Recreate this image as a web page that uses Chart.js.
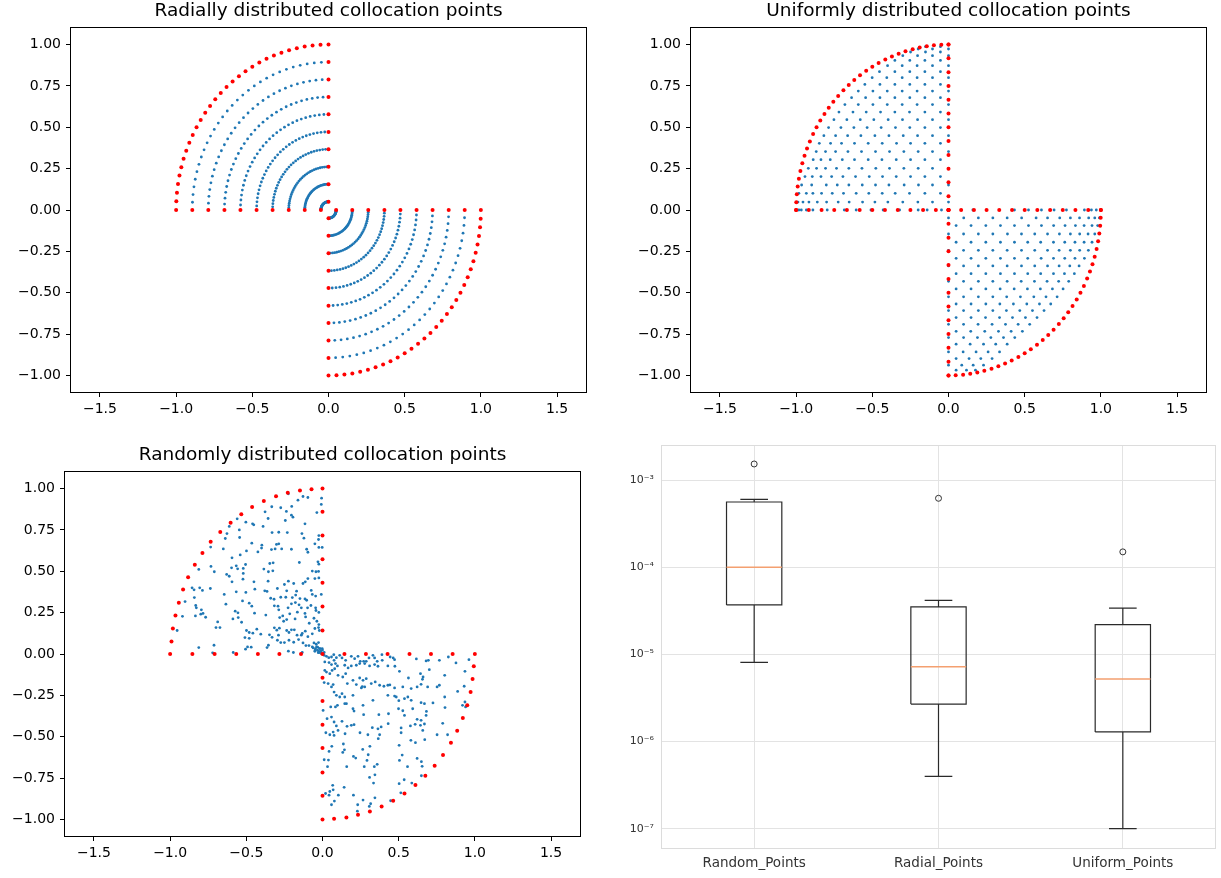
<!DOCTYPE html>
<html>
<head>
<meta charset="utf-8">
<script src="https://cdn.jsdelivr.net/npm/chart.js@4.4.1/dist/chart.umd.min.js"></script>
<style>
  html, body { margin:0; padding:0; background:#fff; }
  body { width:1221px; height:878px; position:relative; overflow:hidden; }
  .p { position:absolute; }
</style>
</head>
<body>
<div class="p" style="left:0px;top:0px"><canvas id="c1" width="600" height="420"></canvas></div>
<div class="p" style="left:620px;top:0px"><canvas id="c2" width="600" height="420"></canvas></div>
<div class="p" style="left:-6px;top:444px"><canvas id="c3" width="600" height="420"></canvas></div>
<div class="p" style="left:605px;top:430px"><canvas id="c4" width="616" height="448"></canvas></div>
<script>
// ---------------- DATA ----------------
const scatterXTicks = [-1.5, -1.0, -0.5, 0.0, 0.5, 1.0, 1.5];
const scatterYTicks = [-1.0, -0.75, -0.5, -0.25, 0.0, 0.25, 0.5, 0.75, 1.0];

// Radial plot: ring radii and point angles (degrees within each quarter)
const radialRingRadii = [0.05, 0.156, 0.261, 0.367, 0.472, 0.578, 0.683, 0.789, 0.894, 1.0];
const radialAnglesDeg = [0,3,6,9,12,15,18,21,24,27,30,33,36,39,42,45,48,51,54,57,60,63,66,69,72,75,78,81,84,87,90];

// Uniform plot: boundary points
const uniformEdgeValues = [0, 0.083, 0.167, 0.25, 0.333, 0.417, 0.5, 0.583, 0.667, 0.75, 0.833, 0.917, 1.0];
const uniformArcDeg = [0,2.7,5.5,8.2,10.9,13.6,16.4,19.1,21.8,24.5,27.3,30,32.7,35.5,38.2,40.9,43.6,46.4,49.1,51.8,54.5,57.3,60,62.7,65.5,68.2,70.9,73.6,76.4,79.1,81.8,84.5,87.3,90];
// Uniform plot interior rows: [y, [x values]]
const uniformUpperRows = [
  [0.0,   [-0.982,-0.966,-0.933,-0.89,-0.796,-0.684,-0.606,-0.509,-0.429,-0.321,-0.199,-0.14,-0.046]],
  [0.048, [-0.988,-0.955,-0.916,-0.861,-0.80,-0.724,-0.652,-0.564,-0.483,-0.398,-0.30,-0.201,-0.105,0]],
  [0.101, [-0.982,-0.933,-0.89,-0.833,-0.763,-0.689,-0.606,-0.523,-0.435,-0.35,-0.256,-0.155,-0.053]],
  [0.151, [-0.964,-0.898,-0.802,-0.73,-0.654,-0.566,-0.479,-0.391,-0.291,-0.197,-0.105,0]],
  [0.202, [-0.942,-0.894,-0.837,-0.767,-0.693,-0.61,-0.52,-0.433,-0.343,-0.249,-0.155,-0.053]],
  [0.252, [-0.92,-0.866,-0.807,-0.735,-0.654,-0.568,-0.477,-0.387,-0.293,-0.199,-0.105,0]],
  [0.304, [-0.888,-0.837,-0.776,-0.697,-0.617,-0.527,-0.437,-0.343,-0.249,-0.155,-0.053]],
  [0.353, [-0.868,-0.807,-0.741,-0.66,-0.571,-0.479,-0.387,-0.293,-0.199,-0.105,0]],
  [0.403, [-0.848,-0.774,-0.702,-0.617,-0.527,-0.435,-0.341,-0.249,-0.155,-0.053]],
  [0.449, [-0.818,-0.741,-0.662,-0.575,-0.483,-0.391,-0.297,-0.203,-0.105,0]],
  [0.498, [-0.787,-0.706,-0.621,-0.534,-0.442,-0.348,-0.254,-0.155,-0.053]],
  [0.546, [-0.752,-0.667,-0.579,-0.49,-0.396,-0.302,-0.203,-0.105,0]],
  [0.592, [-0.719,-0.627,-0.54,-0.446,-0.352,-0.256,-0.155,-0.053]],
  [0.637, [-0.68,-0.592,-0.496,-0.402,-0.304,-0.206,-0.105,0]],
  [0.679, [-0.636,-0.544,-0.45,-0.352,-0.254,-0.155,-0.053]],
  [0.719, [-0.592,-0.496,-0.402,-0.304,-0.206,-0.105,0]],
  [0.759, [-0.549,-0.45,-0.352,-0.254,-0.155,-0.053]],
  [0.80,  [-0.501,-0.405,-0.304,-0.206,-0.105,0]],
  [0.836, [-0.453,-0.352,-0.254,-0.155,-0.053]],
  [0.872, [-0.40,-0.304,-0.206,-0.105,0]],
  [0.904, [-0.352,-0.254,-0.155,-0.053]],
  [0.933, [-0.30,-0.203,-0.105,0]],
  [0.955, [-0.249,-0.151,-0.053]],
  [0.973, [-0.199,-0.105,0]],
  [0.987, [-0.151,-0.053]]
];
const uniformLowerRows = [
  [0.0,    [0.16,0.433,0.525,0.61,0.693,0.774,0.892,0.938,0.97]],
  [-0.048, [0,0.1,0.196,0.291,0.385,0.48,0.575,0.65,0.73,0.80,0.86,0.92,0.96,0.99]],
  [-0.094, [0.05,0.148,0.245,0.341,0.433,0.525,0.61,0.69,0.765,0.833,0.89,0.942,0.979]],
  [-0.145, [0,0.099,0.196,0.291,0.387,0.479,0.566,0.65,0.728,0.8,0.861,0.916,0.96]],
  [-0.195, [0.05,0.148,0.245,0.341,0.433,0.52,0.605,0.689,0.763,0.83,0.89,0.942]],
  [-0.244, [0,0.099,0.196,0.291,0.385,0.479,0.566,0.65,0.726,0.8,0.861,0.918]],
  [-0.292, [0.05,0.148,0.245,0.341,0.433,0.52,0.608,0.689,0.763,0.83,0.892]],
  [-0.338, [0,0.099,0.196,0.291,0.385,0.479,0.566,0.65,0.726,0.796,0.857]],
  [-0.385, [0.05,0.148,0.245,0.341,0.433,0.52,0.605,0.689,0.761,0.826]],
  [-0.431, [0,0.099,0.196,0.291,0.385,0.477,0.564,0.647,0.723,0.789]],
  [-0.477, [0.05,0.148,0.245,0.339,0.431,0.518,0.603,0.682,0.752]],
  [-0.525, [0,0.099,0.196,0.291,0.382,0.472,0.56,0.64,0.713]],
  [-0.568, [0.05,0.148,0.245,0.337,0.426,0.514,0.597,0.671]],
  [-0.608, [0,0.099,0.196,0.291,0.38,0.468,0.551,0.627]],
  [-0.65,  [0.05,0.148,0.243,0.335,0.42,0.505,0.581]],
  [-0.691, [0,0.099,0.194,0.286,0.374,0.457,0.533]],
  [-0.733, [0.05,0.146,0.238,0.328,0.411,0.485]],
  [-0.771, [0,0.099,0.19,0.278,0.361,0.435]],
  [-0.811, [0.05,0.142,0.23,0.31,0.385]],
  [-0.858, [0,0.096,0.181,0.26,0.335]],
  [-0.898, [0.05,0.135,0.212,0.286]],
  [-0.938, [0,0.087,0.162,0.23]],
  [-0.968, [0.05,0.118,0.177]]
];

// Random plot: boundary (red) and interior (blue) points [x, y]
const randomBoundaryPoints = [
  [0,1],[-0.072,0.996],[-0.148,0.988],[-0.228,0.974],[-0.305,0.954],[-0.385,0.924],[-0.462,0.888],[-0.533,0.845],[-0.603,0.793],[-0.671,0.738],
  [-0.734,0.678],[-0.788,0.611],[-0.838,0.539],[-0.882,0.464],[-0.915,0.39],[-0.943,0.309],[-0.965,0.232],[-0.982,0.154],[-0.991,0.075],[-1,0],
  [0,0.859],[0,0.716],[0,0.573],[0,0.43],[0,0.287],[0,0.142],[0,0],
  [-0.854,0],[-0.708,0],[-0.566,0],[-0.424,0],[-0.283,0],[-0.141,0],
  [0.144,0],[0.285,0],[0.427,0],[0.571,0],[0.712,0],[0.854,0],[1,0],
  [0.993,-0.074],[0.985,-0.151],[0.972,-0.23],[0.95,-0.31],[0.921,-0.387],[0.884,-0.464],[0.843,-0.536],[0.791,-0.611],[0.736,-0.675],[0.675,-0.736],
  [0.61,-0.792],[0.538,-0.843],[0.464,-0.887],[0.388,-0.921],[0.311,-0.952],[0.233,-0.972],[0.157,-0.988],[0.076,-0.996],[0,-1],
  [0,-0.143],[0,-0.284],[0,-0.427],[0,-0.568],[0,-0.716],[0,-0.857]
];
const randomInteriorPoints = [
  [-0.128,0.952],[-0.096,0.946],[-0.224,0.968],[-0.161,0.93],[-0.006,0.942],[-0.008,0.904],[-0.037,0.855],[-0.202,0.892],[-0.274,0.884],[-0.333,0.89],
  [-0.377,0.859],[-0.237,0.862],[-0.204,0.839],[-0.194,0.827],[-0.357,0.819],[-0.244,0.807],[-0.115,0.787],[-0.503,0.797],[-0.459,0.787],[-0.451,0.781],
  [-0.56,0.817],[-0.612,0.771],[-0.546,0.75],[-0.39,0.771],[-0.331,0.734],[-0.287,0.736],[-0.231,0.734],[-0.135,0.728],[-0.122,0.70],[-0.024,0.716],
  [-0.026,0.692],[-0.627,0.728],[-0.638,0.698],[-0.544,0.704],[-0.464,0.67],[-0.398,0.658],[-0.4,0.64],[-0.302,0.662],[-0.287,0.666],[-0.311,0.635],
  [-0.335,0.631],[-0.268,0.635],[-0.204,0.633],[-0.104,0.633],[-0.096,0.615],[-0.05,0.666],[-0.024,0.644],[-0.002,0.644],[-0.734,0.646],[-0.651,0.635],
  [-0.499,0.623],[-0.424,0.617],[-0.54,0.599],[-0.594,0.581],[-0.505,0.541],[-0.566,0.533],[-0.597,0.521],[-0.557,0.515],[-0.52,0.517],[-0.732,0.529],
  [-0.346,0.547],[-0.324,0.551],[-0.152,0.553],[-0.03,0.557],[-0.024,0.543],[-0.385,0.513],[-0.812,0.511],
  [-0.71,0.497],[-0.52,0.487],[-0.629,0.481],[-0.612,0.47],[-0.594,0.436],[-0.522,0.452],[-0.45,0.436],
  [-0.355,0.497],[-0.326,0.503],[-0.357,0.44],[-0.296,0.396],[-0.25,0.42],[-0.224,0.44],[-0.189,0.426],[-0.235,0.382],[-0.17,0.38],[-0.128,0.426],
  [-0.113,0.436],[-0.096,0.456],[-0.067,0.501],[-0.043,0.497],[-0.026,0.499],[-0.05,0.456],[-0.024,0.46],
  [-0.856,0.4],[-0.843,0.388],[-0.806,0.4],[-0.788,0.384],[-0.736,0.396],[-0.645,0.36],[-0.566,0.376],[-0.503,0.372],[-0.444,0.392],[-0.379,0.382],
  [-0.364,0.378],[-0.34,0.337],[-0.318,0.331],[-0.274,0.343],[-0.241,0.343],[-0.198,0.341],[-0.176,0.356],[-0.148,0.335],[-0.115,0.333],[-0.104,0.325],
  [-0.074,0.384],[-0.067,0.36],[-0.045,0.35],[-0.008,0.36],
  [-0.902,0.317],[-0.841,0.341],[-0.832,0.293],[-0.828,0.279],[-0.795,0.267],[-0.784,0.245],[-0.799,0.241],[-0.767,0.222],[-0.834,0.23],[-0.919,0.228],
  [-0.634,0.301],[-0.573,0.259],[-0.555,0.249],[-0.553,0.22],[-0.525,0.321],[-0.481,0.307],[-0.464,0.289],[-0.446,0.247],[-0.372,0.235],[-0.316,0.291],
  [-0.292,0.289],[-0.287,0.267],[-0.226,0.279],[-0.204,0.303],[-0.178,0.311],[-0.154,0.297],[-0.139,0.279],[-0.098,0.279],[-0.076,0.293],[-0.045,0.279],
  [-0.043,0.263],[-0.024,0.251],
  [-0.281,0.22],[-0.261,0.23],[-0.255,0.198],[-0.235,0.208],[-0.215,0.243],[-0.18,0.212],[-0.165,0.253],[-0.115,0.245],[-0.111,0.224],[-0.056,0.216],
  [-0.037,0.198],[-0.024,0.178],[-0.087,0.186],[-0.531,0.192],[-0.588,0.212],[-0.688,0.194],[-0.699,0.16],[-0.673,0.16],[-0.954,0.142],[-0.499,0.142],
  [-0.431,0.15],[-0.405,0.12],[-0.481,0.13],[-0.457,0.126],[-0.509,0.099],[-0.481,0.095],[-0.348,0.116],[-0.331,0.101],[-0.316,0.158],[-0.3,0.144],
  [-0.283,0.156],[-0.289,0.114],[-0.235,0.142],[-0.22,0.13],[-0.204,0.146],[-0.185,0.146],[-0.167,0.114],[-0.139,0.114],[-0.133,0.124],[-0.113,0.138],
  [-0.096,0.105],[-0.067,0.122],[-0.05,0.154],[-0.026,0.16],[-0.021,0.142],
  [-0.296,0.083],[-0.274,0.069],[-0.25,0.069],[-0.22,0.083],[-0.189,0.071],[-0.157,0.087],[-0.128,0.067],[-0.109,0.051],[-0.089,0.051],[-0.067,0.043],
  [-0.056,0.067],[-0.041,0.059],[-0.026,0.069],[-0.019,0.033],[-0.002,0.033],[-0.011,0.017],[0.011,0.009],
  [-0.812,0.039],[-0.712,0.053],[-0.721,0.007],[-0.586,0.009],[-0.505,0.029],[-0.492,0.043],[-0.468,0.041],[-0.364,0.039],[-0.355,0.053],[-0.224,0.017],
  [-0.191,0.009],[-0.133,0.009],[-0.048,0.023],[-0.032,0.041],[-0.021,0.009],
  [-0.061,0.037],[-0.046,0.032],[-0.033,0.024],[-0.024,0.016],[-0.011,0.012],[-0.017,0.032],[-0.039,0.043],[-0.007,0.002],[-0.028,0.008],[-0.05,0.016],[0.0,0.024],
  [0.011,-0.008],[0.026,-0.014],[0.041,-0.022],[0.059,-0.018],[0.074,-0.004],[0.091,-0.022],[0.113,-0.008],[0.128,-0.024],[0.152,-0.038],[0.189,-0.014],
  [0.211,-0.028],[0.233,-0.014],[0.248,-0.044],[0.27,-0.044],[0.287,-0.044],[0.305,-0.024],[0.331,-0.008],[0.342,-0.024],[0.359,-0.044],[0.39,-0.004],
  [0.392,-0.038],[0.444,-0.018],[0.464,-0.024],[0.473,-0.034],[0.616,-0.03],[0.68,-0.042],[0.695,-0.038],[0.767,-0.038],[0.826,-0.018],[0.876,-0.054],
  [0.961,-0.034],[0.015,-0.048],[0.043,-0.052],[0.059,-0.064],[0.076,-0.038],[0.085,-0.058],[0.098,-0.072],[0.146,-0.068],[0.168,-0.084],[0.189,-0.072],
  [0.222,-0.068],[0.244,-0.058],[0.277,-0.058],[0.309,-0.072],[0.342,-0.064],[0.364,-0.074],[0.429,-0.072],[0.475,-0.074],[0.505,-0.105],[0.564,-0.145],
  [0.643,-0.119],[0.656,-0.153],[0.66,-0.139],[0.701,-0.095],[0.802,-0.129],[0.935,-0.105],
  [0.015,-0.099],[0.026,-0.109],[0.048,-0.119],[0.063,-0.099],[0.08,-0.089],[0.102,-0.129],[0.133,-0.139],[0.152,-0.119],[0.163,-0.179],[0.2,-0.159],
  [0.222,-0.185],[0.244,-0.145],[0.266,-0.159],[0.277,-0.199],[0.287,-0.149],[0.32,-0.179],[0.346,-0.169],[0.375,-0.189],[0.403,-0.195],[0.429,-0.189],
  [0.442,-0.187],[0.473,-0.205],[0.527,-0.199],[0.582,-0.209],[0.621,-0.199],[0.647,-0.183],[0.69,-0.199],[0.752,-0.199],[0.767,-0.189],[0.887,-0.226],
  [0.93,-0.195],
  [0.011,-0.173],[0.037,-0.179],[0.059,-0.199],[0.07,-0.185],[0.076,-0.23],[0.091,-0.25],[0.113,-0.26],[0.128,-0.24],[0.146,-0.26],[0.157,-0.3],
  [0.2,-0.25],[0.255,-0.205],[0.261,-0.197],[0.331,-0.28],[0.429,-0.25],[0.473,-0.254],[0.484,-0.26],[0.501,-0.282],[0.538,-0.27],[0.56,-0.26],
  [0.582,-0.28],[0.647,-0.294],[0.669,-0.3],[0.725,-0.296],[0.802,-0.26],[0.919,-0.31],[0.935,-0.29],[0.939,-0.32],
  [0.004,-0.341],[0.054,-0.32],[0.085,-0.32],[0.098,-0.31],[0.146,-0.3],[0.2,-0.331],[0.207,-0.345],[0.266,-0.31],[0.27,-0.367],[0.37,-0.367],
  [0.433,-0.361],[0.499,-0.331],[0.527,-0.343],[0.538,-0.371],[0.592,-0.331],[0.621,-0.395],[0.647,-0.401],[0.682,-0.347],[0.68,-0.371],[0.804,-0.324],
  [0.03,-0.391],[0.059,-0.381],[0.076,-0.411],[0.091,-0.435],[0.128,-0.407],[0.161,-0.437],[0.189,-0.431],[0.207,-0.427],[0.298,-0.488],[0.327,-0.445],
  [0.385,-0.441],[0.431,-0.421],[0.516,-0.447],[0.577,-0.435],[0.608,-0.425],[0.643,-0.431],[0.669,-0.423],[0.789,-0.419],
  [0.022,-0.476],[0.048,-0.488],[0.07,-0.472],[0.076,-0.492],[0.102,-0.462],[0.148,-0.482],[0.246,-0.476],[0.364,-0.452],[0.375,-0.488],[0.516,-0.476],
  [0.752,-0.488],[0.821,-0.488],[0.658,-0.462],
  [0.366,-0.512],[0.58,-0.522],[0.61,-0.536],[0.671,-0.518],[0.061,-0.558],[0.043,-0.589],[0.137,-0.544],[0.144,-0.579],[0.133,-0.595],[0.264,-0.577],
  [0.311,-0.558],[0.503,-0.552],[0.523,-0.611],[0.505,-0.643],[0.621,-0.631],[0.649,-0.651],[0.654,-0.679],[0.558,-0.681],[0.011,-0.639],[0.039,-0.641],
  [0.033,-0.681],[0.159,-0.681],[0.203,-0.619],[0.218,-0.629],[0.3,-0.609],[0.292,-0.643],[0.274,-0.681],[0.34,-0.681],[0.359,-0.667],[0.309,-0.746],
  [0.344,-0.73],[0.335,-0.78],[0.503,-0.784],[0.536,-0.76],[0.586,-0.78],[0.649,-0.736],[0.067,-0.794],[0.07,-0.821],[0.048,-0.831],[0.02,-0.843],
  [0.043,-0.853],[0.104,-0.853],[0.142,-0.806],[0.203,-0.853],[0.266,-0.883],[0.344,-0.869],[0.078,-0.889],[0.059,-0.911],[0.231,-0.911],[0.316,-0.905],
  [0.307,-0.921],[0.229,-0.95],[0.447,-0.887],[0.514,-0.839]
];

// Box plot (log scale)
const boxCategories = ['Random_Points', 'Radial_Points', 'Uniform_Points'];
const boxWhiskerLow  = [8.1e-6, 3.98e-7, 1.0e-7];
const boxQ1          = [3.69e-5, 2.69e-6, 1.29e-6];
const boxMedian      = [1.0e-4, 7.2e-6, 5.2e-6];
const boxQ3          = [5.6e-4, 3.5e-5, 2.2e-5];
const boxWhiskerHigh = [6.0e-4, 4.17e-5, 3.4e-5];
const boxOutliers    = [[1.53e-3], [6.18e-4], [1.5e-4]];
const boxLogTicks    = [1e-7, 1e-6, 1e-5, 1e-4, 1e-3];

// ---------------- STYLE / HELPERS ----------------
const FONT = "'DejaVu Sans', sans-serif";
const BLUE = '#1f77b4', RED = '#ff0000';

const framePlugin = {
  id: 'frame',
  afterDraw(chart, args, opts) {
    const a = chart.chartArea, ctx = chart.ctx;
    ctx.save();
    ctx.strokeStyle = opts.color || '#000';
    ctx.lineWidth = 1;
    ctx.strokeRect(Math.round(a.left) - 0.5, Math.round(a.top) - 0.5,
                   Math.round(a.right - a.left) + 1, Math.round(a.bottom - a.top) + 1);
    ctx.restore();
  }
};
Chart.register(framePlugin);

const mm = s => s.replace('-', '\u2212');
function polar(r, deg) { const t = deg * Math.PI / 180; return {x: r * Math.cos(t), y: r * Math.sin(t)}; }

function scatterChart(id, title, red, blue) {
  return new Chart(document.getElementById(id), {
    type: 'scatter',
    data: { datasets: [
      { data: red,  backgroundColor: RED,  borderWidth: 0, pointRadius: 2.0 },
      { data: blue, backgroundColor: BLUE, borderWidth: 0, pointRadius: 1.4 }
    ]},
    options: {
      responsive: false, animation: false, events: [],
      layout: { padding: { left: 0, right: 14, top: 0, bottom: 0 } },
      plugins: {
        legend: { display: false }, tooltip: { enabled: false },
        frame: { color: '#000' },
        title: { display: true, fullSize: false, text: title, color: '#000',
                 font: { family: FONT, size: 18.5, weight: 'normal', lineHeight: 1.2 },
                 padding: { top: 0, bottom: 5.8 } }
      },
      scales: {
        x: { type: 'linear', min: -1.69, max: 1.69,
             afterBuildTicks: s => { s.ticks = scatterXTicks.map(v => ({ value: v })); },
             afterFit: s => { s.height = 28; },
             border: { display: false },
             grid: { drawOnChartArea: false, drawTicks: true, tickLength: 5, tickColor: '#000', tickWidth: 1 },
             ticks: { autoSkip: false, maxRotation: 0, padding: 4, color: '#000',
                      font: { family: FONT, size: 14 }, callback: v => mm(Number(v).toFixed(1)) } },
        y: { type: 'linear', min: -1.1, max: 1.1,
             afterBuildTicks: s => { s.ticks = scatterYTicks.map(v => ({ value: v })); },
             afterFit: s => { s.width = 71; },
             border: { display: false },
             grid: { drawOnChartArea: false, drawTicks: true, tickLength: 5, tickColor: '#000', tickWidth: 1 },
             ticks: { autoSkip: false, padding: 5, color: '#000',
                      font: { family: FONT, size: 14 }, callback: v => mm(Number(v).toFixed(2)) } }
      }
    }
  });
}

// ---------------- 1. Radial ----------------
(function () {
  const red = [], blue = [];
  radialRingRadii.forEach((r, ri) => {
    const last = ri === radialRingRadii.length - 1;
    radialAnglesDeg.forEach((a, ai) => {
      const edge = ai === 0 || ai === radialAnglesDeg.length - 1;
      const p1 = polar(r, 90 + a), p2 = polar(r, 270 + a);
      (last || edge ? red : blue).push(p1, p2);
    });
  });
  scatterChart('c1', 'Radially distributed collocation points', red, blue);
})();

// ---------------- 2. Uniform ----------------
(function () {
  const red = [], blue = [];
  uniformArcDeg.forEach(a => { red.push(polar(1, 90 + a), polar(1, 270 + a)); });
  uniformEdgeValues.forEach(v => {
    red.push({x: 0, y: v}, {x: -v, y: 0}, {x: 0, y: -v}, {x: v, y: 0});
  });
  uniformUpperRows.forEach(([y, xs]) => xs.forEach(x => blue.push({x, y})));
  uniformLowerRows.forEach(([y, xs]) => xs.forEach(x => blue.push({x, y})));
  scatterChart('c2', 'Uniformly distributed collocation points', red, blue);
})();

// ---------------- 3. Random ----------------
scatterChart('c3', 'Randomly distributed collocation points',
  randomBoundaryPoints.map(([x, y]) => ({x, y})),
  randomInteriorPoints.map(([x, y]) => ({x, y})));

// ---------------- 4. Box plot ----------------
(function () {
  const HW = 0.15, CW = 0.075;
  const lines = [], meds = [], outs = [];
  const gap = x => ({ x, y: null });
  boxCategories.forEach((c, i) => {
    const x = i + 1;
    lines.push({x: x - HW, y: boxQ1[i]}, {x: x + HW, y: boxQ1[i]}, {x: x + HW, y: boxQ3[i]},
               {x: x - HW, y: boxQ3[i]}, {x: x - HW, y: boxQ1[i]}, gap(x));
    lines.push({x, y: boxQ3[i]}, {x, y: boxWhiskerHigh[i]}, gap(x));
    lines.push({x: x - CW, y: boxWhiskerHigh[i]}, {x: x + CW, y: boxWhiskerHigh[i]}, gap(x));
    lines.push({x, y: boxQ1[i]}, {x, y: boxWhiskerLow[i]}, gap(x));
    lines.push({x: x - CW, y: boxWhiskerLow[i]}, {x: x + CW, y: boxWhiskerLow[i]}, gap(x));
    meds.push({x: x - HW, y: boxMedian[i]}, {x: x + HW, y: boxMedian[i]}, gap(x));
    boxOutliers[i].forEach(v => outs.push({x, y: v}));
  });
  const sup = {'-':'\u207B','0':'\u2070','1':'\u00B9','2':'\u00B2','3':'\u00B3','4':'\u2074','5':'\u2075','6':'\u2076','7':'\u2077','8':'\u2078','9':'\u2079'};
  new Chart(document.getElementById('c4'), {
    type: 'scatter',
    data: { datasets: [
      { data: outs, pointRadius: 3, pointStyle: 'circle', backgroundColor: 'rgba(0,0,0,0)', borderColor: '#333', borderWidth: 1, showLine: false },
      { data: meds, showLine: true, spanGaps: false, borderColor: '#f4a070', borderWidth: 1.5, pointRadius: 0 },
      { data: lines, showLine: true, spanGaps: false, borderColor: '#2a2a2a', borderWidth: 1.2, pointRadius: 0 }
    ]},
    options: {
      responsive: false, animation: false, events: [],
      layout: { padding: { left: 0, right: 6, top: 16, bottom: 0 } },
      plugins: { legend: { display: false }, tooltip: { enabled: false }, frame: { color: '#dcdcdc' } },
      scales: {
        x: { type: 'linear', min: 0.5, max: 3.5,
             afterBuildTicks: s => { s.ticks = boxCategories.map((c, i) => ({ value: i + 1 })); },
             afterFit: s => { s.height = 30; },
             border: { display: false },
             grid: { color: '#e3e3e3', drawTicks: false, lineWidth: 1 },
             ticks: { autoSkip: false, maxRotation: 0, padding: 7, color: '#333',
                      font: { family: FONT, size: 13.5 }, callback: v => boxCategories[Math.round(v) - 1] } },
        y: { type: 'logarithmic', min: 6.34e-8, max: 2.46e-3,
             afterBuildTicks: s => { s.ticks = boxLogTicks.map(v => ({ value: v })); },
             afterFit: s => { s.width = 57; },
             border: { display: false },
             grid: { color: '#e3e3e3', drawTicks: false, lineWidth: 1 },
             ticks: { autoSkip: false, padding: 8, color: '#333',
                      font: { family: FONT, size: 11 },
                      callback: v => '10' + String(Math.round(Math.log10(v))).split('').map(ch => sup[ch]).join('') } }
      }
    }
  });
})();
</script>
</body>
</html>
